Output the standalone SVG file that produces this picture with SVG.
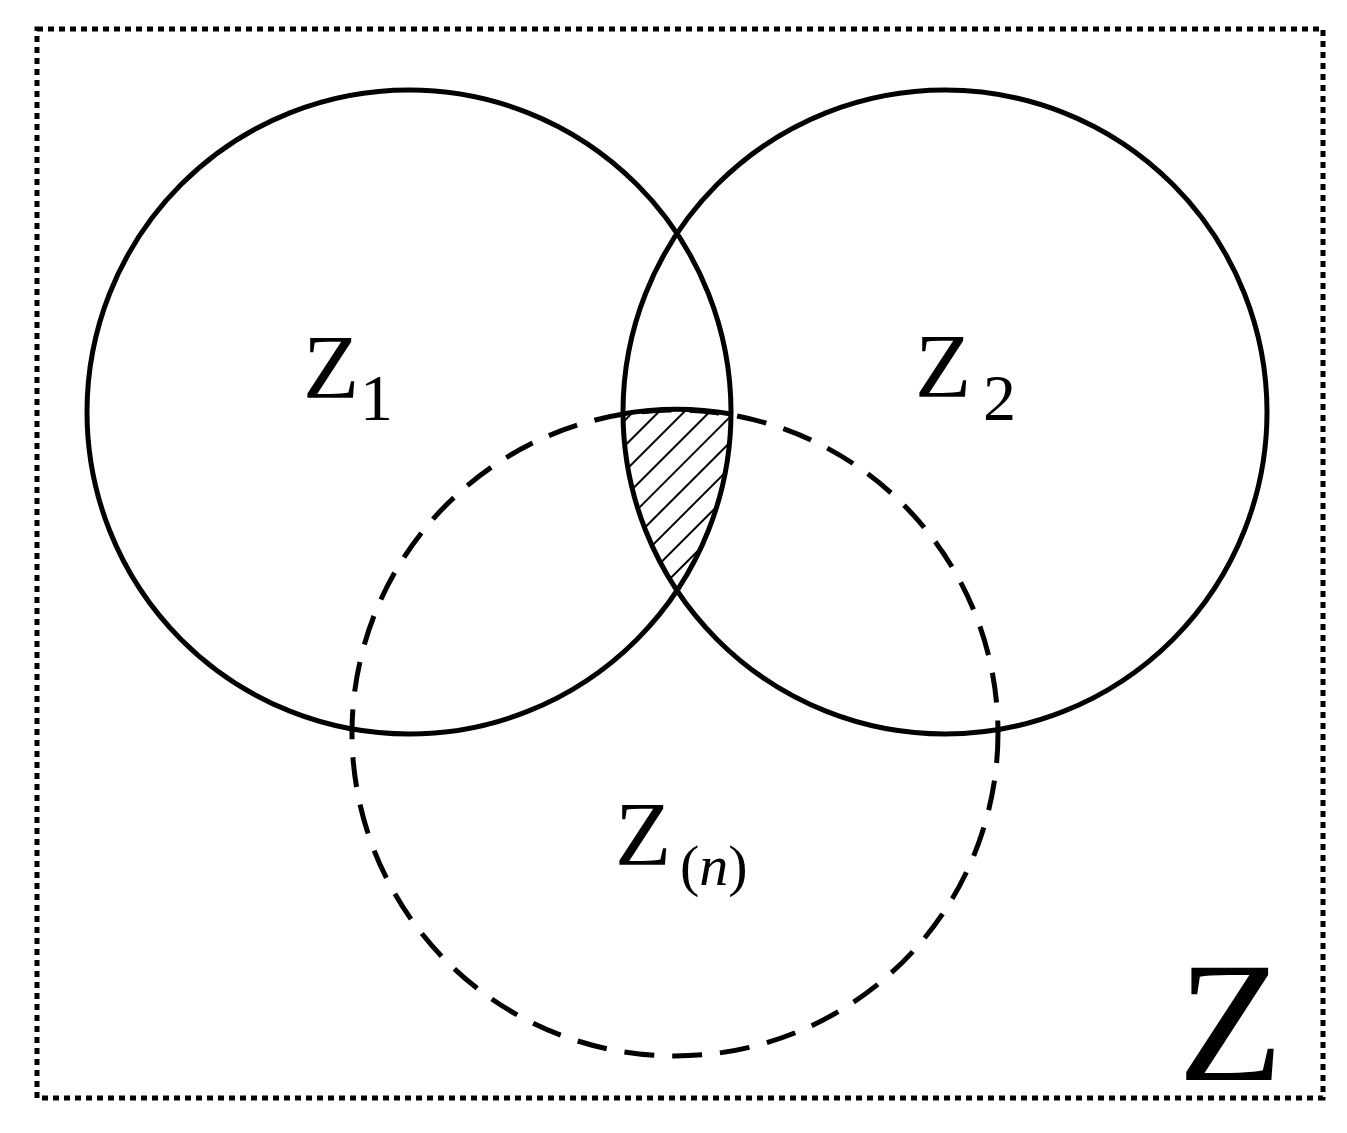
<svg xmlns="http://www.w3.org/2000/svg" width="1347" height="1133" viewBox="0 0 1347 1133">
<style>
.c{fill:none;stroke:#000;stroke-width:5}
.t{font-family:"Liberation Serif",serif;fill:#000}
</style>
<defs>
<pattern id="h" patternUnits="userSpaceOnUse" width="18" height="18" patternTransform="rotate(45)">
<line x1="0" y1="0" x2="0" y2="18" stroke="#000" stroke-width="4"/>
</pattern>
<clipPath id="c1"><circle cx="409" cy="412" r="322"/></clipPath>
<clipPath id="c2"><circle cx="945" cy="412" r="322"/></clipPath>
<clipPath id="c3"><circle cx="675" cy="733" r="323"/></clipPath>
</defs>
<rect width="1347" height="1133" fill="#fff"/>
<g id="frame"><rect x="37" y="29" width="1286" height="1069" fill="none" stroke="#000" stroke-width="5" stroke-dasharray="6,5"/></g>
<g id="hatch" clip-path="url(#c1)"><g clip-path="url(#c2)"><g clip-path="url(#c3)"><rect x="600" y="400" width="150" height="200" fill="url(#h)"/></g></g></g>
<g id="z1"><circle class="c" cx="409" cy="412" r="322"/><text class="t" x="303" y="398" font-size="92">Z</text><text class="t" x="360" y="420" font-size="66">1</text></g>
<g id="z2"><circle class="c" cx="945" cy="412" r="322"/><text class="t" x="915" y="397" font-size="92">Z</text><text class="t" x="983" y="420" font-size="66">2</text></g>
<g id="zn"><circle class="c" cx="675" cy="733" r="323" stroke-dasharray="30,18"/><path class="c" d="M622,414 A323,323 0 0 1 731,414"/><text class="t" x="615" y="865" font-size="92">Z</text><text class="t" x="680" y="885" font-size="58">(<tspan font-style="italic">n</tspan>)</text></g>
<g id="z"><text class="t" x="1178" y="1080" font-size="172">Z</text></g>
</svg>
